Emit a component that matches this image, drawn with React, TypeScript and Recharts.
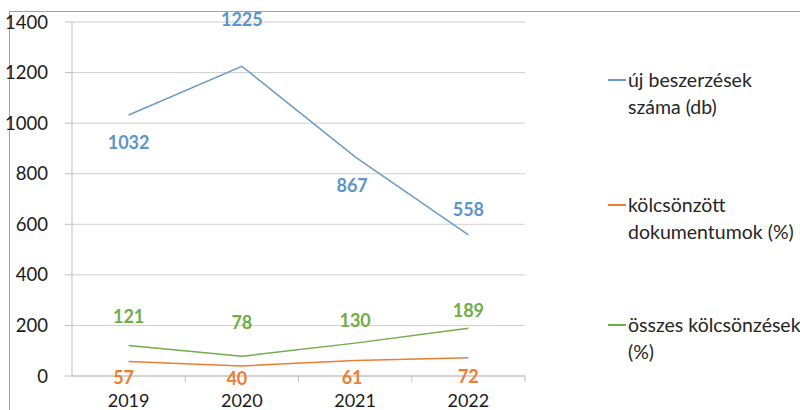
import React from 'react';
import { LineChart, Line, XAxis, YAxis, CartesianGrid, LabelList } from 'recharts';

const years = ['2019', '2020', '2021', '2022'];
const ujBeszerzesek = [1032, 1225, 867, 558];
const kolcsonzottDok = [57, 40, 61, 72];
const osszesKolcsonzes = [121, 78, 130, 189];
const yTicks = [0, 200, 400, 600, 800, 1000, 1200, 1400];

const seriesDefs = [
  { key: 'uj', name: ['új beszerzések', 'száma (db)'], color: '#6b9bcc', labelColor: '#5b95cc', dy: [27, -47, 28, -26], dx: [0, 0, -3, 0] },
  { key: 'kolcs', name: ['kölcsönzött', 'dokumentumok (%)'], color: '#ed7d31', labelColor: '#ed7d31', dy: [15, 12, 16, 18], dx: [-5, -5, -3, 0] },
  { key: 'ossz', name: ['összes kölcsönzések', '(%)'], color: '#70ad47', labelColor: '#70ad47', dy: [-29, -34, -23, -18], dx: [0, 0, 0, 0] },
];

const data = years.map((y, i) => ({
  year: y,
  uj: ujBeszerzesek[i],
  kolcs: kolcsonzottDok[i],
  ossz: osszesKolcsonzes[i],
}));

const FONT = 'Lato, "Open Sans", sans-serif';
const PLOT_LEFT = 72;
const PLOT_RIGHT = 525;
const HALF_BAND = (PLOT_RIGHT - PLOT_LEFT) / years.length / 2;

const XTick = (props: any) => {
  const { x, y, payload } = props;
  return (
    <g>
      <line x1={x + HALF_BAND} y1={y} x2={x + HALF_BAND} y2={y + 6} stroke="#bfbfbf" />
      <text x={x} y={y + 30.5} textAnchor="middle" fontSize={18} fill="#1a1a1a" fontFamily={FONT}>
        {payload.value}
      </text>
    </g>
  );
};

const makeLabel = (color: string, dy: number[], dx: number[]) => (props: any) => {
  const { x, y, value, index } = props;
  return (
    <text
      x={x + dx[index]}
      y={y + dy[index]}
      textAnchor="middle"
      dominantBaseline="central"
      fontSize={18}
      fontWeight="bold"
      fill={color}
      fontFamily={FONT}
    >
      {value}
    </text>
  );
};

export default function App() {
  return (
    <div style={{ position: 'absolute', left: 0, top: 0, width: 800, height: 410, overflow: 'hidden', background: '#fff' }}>
      <div
        style={{
          position: 'absolute',
          left: 9,
          top: 11,
          width: 800,
          height: 410,
          borderTop: '1.5px solid #8da7c6',
          borderLeft: '1.5px solid #8da7c6',
        }}
      />
      <div style={{ position: 'absolute', left: 0, top: 0 }}>
        <LineChart width={800} height={410} data={data} margin={{ top: 22, right: 800 - PLOT_RIGHT, left: 0, bottom: 4 }}>
          <CartesianGrid vertical={false} stroke="#cfcfcf" />
          <XAxis
            dataKey="year"
            height={30}
            padding={{ left: HALF_BAND, right: HALF_BAND }}
            tickSize={0}
            tickMargin={0}
            tickLine={false}
            axisLine={{ stroke: '#bfbfbf' }}
            tick={<XTick />}
            interval={0}
          />
          <YAxis
            width={PLOT_LEFT}
            domain={[0, 1400]}
            ticks={yTicks}
            tickSize={7}
            tickMargin={17}
            tickLine={{ stroke: '#bfbfbf' }}
            axisLine={{ stroke: '#bfbfbf' }}
            tick={{ fontSize: 18.5, fill: '#1a1a1a', fontFamily: FONT }}
          />
          {seriesDefs.map((s) => (
            <Line
              key={s.key}
              dataKey={s.key}
              type="linear"
              stroke={s.color}
              strokeWidth={1.5}
              dot={false}
              activeDot={false}
              isAnimationActive={false}
            >
              <LabelList dataKey={s.key} content={makeLabel(s.labelColor, s.dy, s.dx)} />
            </Line>
          ))}
        </LineChart>
      </div>
      {seriesDefs.map((s, i) => (
        <div
          key={s.key}
          style={{
            position: 'absolute',
            left: 608,
            top: [66, 191, 311][i],
            fontFamily: FONT,
            fontSize: 19.5,
            lineHeight: '27px',
            color: '#262626',
          }}
        >
          <div style={{ position: 'absolute', left: 0, top: 13, width: 18, height: 1.5, background: s.color }} />
          <div style={{ paddingLeft: 20, whiteSpace: 'nowrap' }}>
            {s.name[0]}
            <br />
            {s.name[1]}
          </div>
        </div>
      ))}
    </div>
  );
}
